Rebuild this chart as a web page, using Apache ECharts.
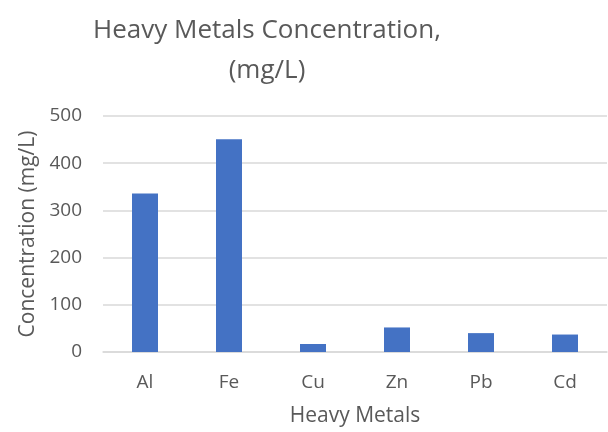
<!DOCTYPE html>
<html>
<head>
<meta charset="utf-8">
<script src="https://cdn.jsdelivr.net/npm/echarts@6/dist/echarts.min.js"></script>
<style>
html,body{margin:0;padding:0;background:#fff;}
#chart{width:608px;height:432px;}
</style>
</head>
<body>
<div id="chart"></div>
<script>
var categories = ['Al', 'Fe', 'Cu', 'Zn', 'Pb', 'Cd'];
var concentrations = [336, 451, 17, 52, 40, 37];
var yTicks = [0, 100, 200, 300, 400, 500];

var FONT = 'Open Sans';
var chart = echarts.init(document.getElementById('chart'), null, {renderer: 'canvas'});
chart.setOption({
  animation: false,
  backgroundColor: '#ffffff',
  title: {
    text: 'Heavy Metals Concentration,\n(mg/L)',
    left: 262,
    top: 6,
    textAlign: 'center',
    textStyle: {
      fontFamily: FONT,
      fontSize: 26,
      fontWeight: 'normal',
      color: '#595959',
      lineHeight: 40
    }
  },
  grid: {left: 103, right: 1, top: 116, bottom: 80, containLabel: false},
  xAxis: {
    type: 'category',
    data: categories,
    name: 'Heavy Metals',
    nameLocation: 'middle',
    nameGap: 54,
    nameTextStyle: {fontFamily: FONT, fontSize: 21, color: '#595959'},
    axisLine: {show: true, lineStyle: {color: '#d9d9d9', width: 1.5}},
    axisTick: {show: false},
    axisLabel: {fontFamily: FONT, fontSize: 19, color: '#595959', margin: 21}
  },
  yAxis: {
    type: 'value',
    min: yTicks[0],
    max: yTicks[yTicks.length - 1],
    interval: 100,
    name: 'Concentration (mg/L)',
    nameLocation: 'middle',
    nameGap: 64,
    nameTextStyle: {fontFamily: FONT, fontSize: 21, color: '#595959'},
    axisLine: {show: false},
    axisTick: {show: false},
    splitLine: {lineStyle: {color: '#d9d9d9', width: 1.5}},
    axisLabel: {fontFamily: FONT, fontSize: 19, color: '#595959', margin: 21}
  },
  series: [{
    type: 'bar',
    data: concentrations,
    barWidth: 26,
    itemStyle: {color: '#4472C4'}
  }]
});
</script>
</body>
</html>
